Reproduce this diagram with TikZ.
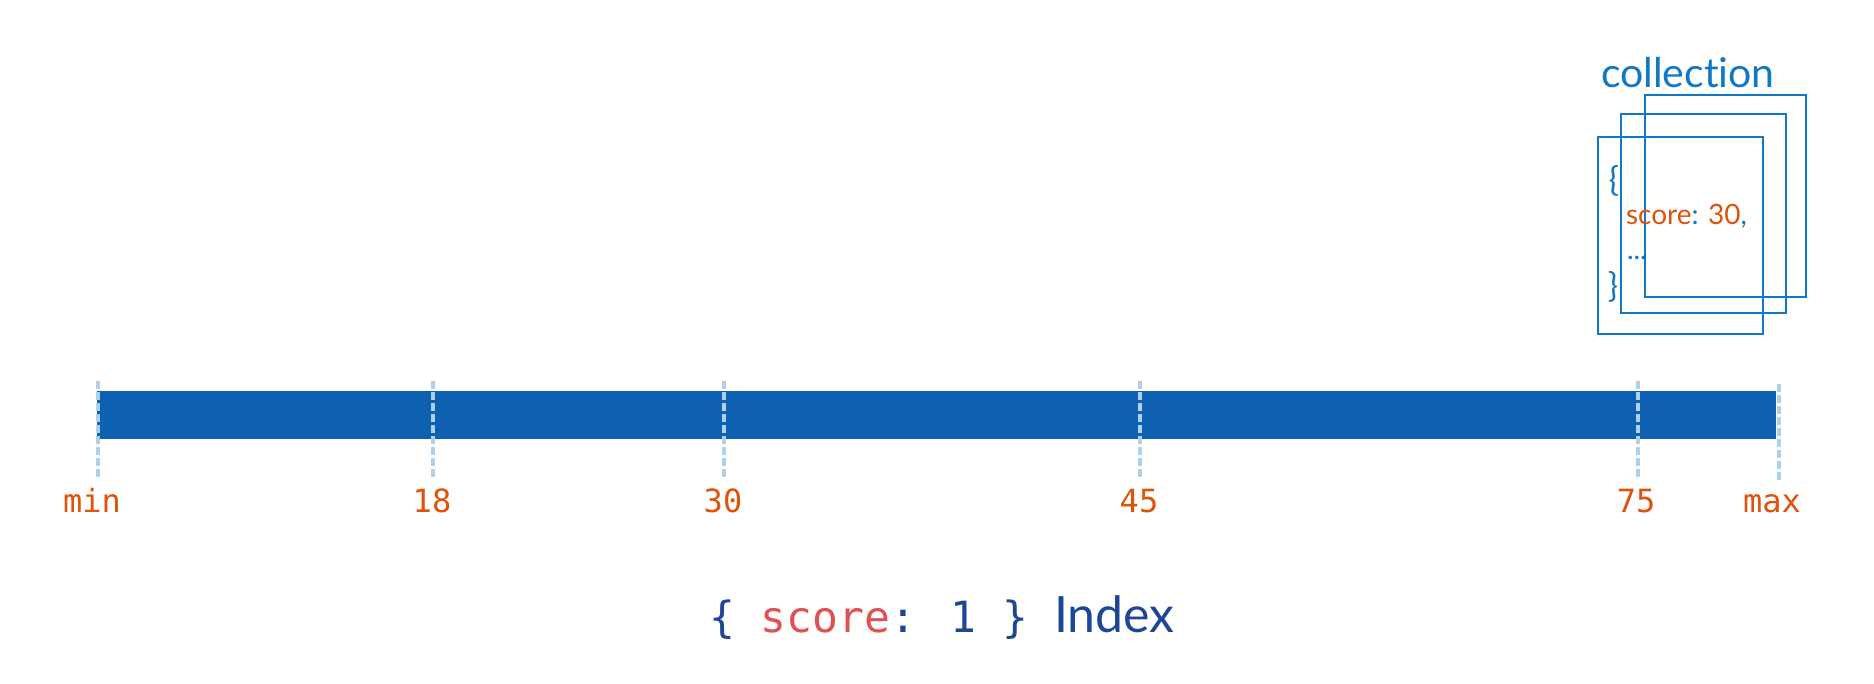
\documentclass[tikz,border=0pt]{standalone}
\usepackage{fontspec}
\setmainfont{Lato}[Ligatures={NoCommon}]
\newfontfamily\codefont{DejaVu Sans Mono}
\usetikzlibrary{positioning}

\definecolor{barblue}{RGB}{13,97,176}
\definecolor{tickblue}{RGB}{175,208,234}
\definecolor{numorange}{RGB}{222,82,10}
\definecolor{docblue}{RGB}{16,120,196}
\definecolor{idxblue}{RGB}{30,70,150}
\definecolor{keyred}{RGB}{224,82,82}

\begin{document}
\begin{tikzpicture}[x=0.5pt, y=-0.5pt, every node/.style={inner sep=0pt, outer sep=0pt}]

% Define styles
\tikzstyle{rangebar} = [rectangle, fill=barblue, draw=none, minimum width=839.5pt, minimum height=24pt, anchor=north west]
\tikzstyle{tickline} = [tickblue, line width=2pt, dash pattern=on 4pt off 1.5pt]
\tikzstyle{ticklabel} = [anchor=base, text=numorange, font=\codefont\fontsize{16}{16}\selectfont]
\tikzstyle{doc} = [docblue, line width=1pt]
\tikzstyle{doctext} = [anchor=base west, text=docblue, font=\fontsize{14}{14}\selectfont]
\tikzstyle{brace} = [anchor=center, text=docblue, font=\fontsize{17}{17}\selectfont]

\useasboundingbox (0,0) rectangle (1874,684);

% Collection
\node[anchor=base west, text=docblue, font=\fontsize{20.5}{20.5}\selectfont] (coll) at (1601,88) {collection};
\draw[doc] (1645,95) rectangle (1806,297);
\draw[doc] (1621,114) rectangle (1786,313);
\draw[doc] (1598,137) rectangle (1763,334);
\node[brace] (open) at (1614,181) {\{};
\node[doctext] (field) at (1626,225) {\textcolor{numorange}{score}: \textcolor{numorange}{30},};
\node[doctext] (more) at (1627,260) {...};
\node[brace] (close) at (1613,287) {\}};

% Index range
\node[rangebar] (bar) at (97,391) {};

% Ticks
\coordinate (minA) at (98,381);  \coordinate (minB) at (98,480);
\coordinate (t18A) at (433,381); \coordinate (t18B) at (433,480);
\coordinate (t30A) at (724,381); \coordinate (t30B) at (724,480);
\coordinate (t45A) at (1140,381); \coordinate (t45B) at (1140,480);
\coordinate (t75A) at (1638,381); \coordinate (t75B) at (1638,480);
\coordinate (maxA) at (1779,384); \coordinate (maxB) at (1779,482);
\draw[tickline] (minA) -- (minB);
\draw[tickline] (t18A) -- (t18B);
\draw[tickline] (t30A) -- (t30B);
\draw[tickline] (t45A) -- (t45B);
\draw[tickline] (t75A) -- (t75B);
\draw[tickline] (maxA) -- (maxB);

% Labels
\node[ticklabel] (lmin) at (92,512) {min};
\node[ticklabel] (l18) at (432,512) {18};
\node[ticklabel] (l30) at (723,512) {30};
\node[ticklabel] (l45) at (1139,512) {45};
\node[ticklabel] (l75) at (1636,512) {75};
\node[ticklabel] (lmax) at (1772,512) {max};

% Index name
\node[anchor=base, text=idxblue] (index) at (942,632) {{\codefont\fontsize{21.5}{21.5}\selectfont \{ \textcolor{keyred}{score}: 1 \}\ }{\fontsize{25}{25}\selectfont Index}};

\end{tikzpicture}
\end{document}
